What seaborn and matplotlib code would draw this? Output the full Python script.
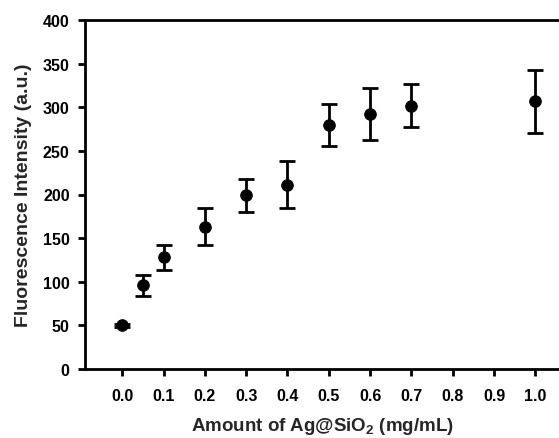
import numpy as np
import pandas as pd
import matplotlib
matplotlib.use("Agg")
import matplotlib.pyplot as plt
import seaborn as sns

amount = [0.0, 0.05, 0.1, 0.2, 0.3, 0.4, 0.5, 0.6, 0.7, 1.0]
intensity = [50, 96, 128, 163, 199, 211, 280, 292, 302, 307]
error = [2, 12, 14, 21, 19, 27, 24, 30, 25, 36]
xticks = [0.0, 0.1, 0.2, 0.3, 0.4, 0.5, 0.6, 0.7, 0.8, 0.9, 1.0]
yticks = [0, 50, 100, 150, 200, 250, 300, 350, 400]

df = pd.DataFrame({"amount": amount, "intensity": intensity, "err": error})

sns.set_style("ticks")
plt.rcParams["font.family"] = ["Liberation Sans", "DejaVu Sans"]
plt.rcParams["font.weight"] = "bold"
plt.rcParams["mathtext.fontset"] = "custom"
plt.rcParams["mathtext.bf"] = "Liberation Sans:bold"
plt.rcParams["mathtext.rm"] = "Liberation Sans:bold"

fig = plt.figure(figsize=(5.59, 4.39), dpi=100)
ax = fig.add_axes([85 / 559, 69 / 439, 1 - 85 / 559, 349 / 439])

ax.errorbar(df["amount"], df["intensity"], yerr=df["err"], fmt="none",
            ecolor="black", elinewidth=2, capsize=6, capthick=2, zorder=2)
sns.scatterplot(data=df, x="amount", y="intensity", ax=ax, color="black",
                s=70, edgecolor="black", zorder=3, legend=False)

ax.set_xlim(-0.09, 1.057)
ax.set_ylim(0, 400)
ax.set_xticks(xticks)
ax.set_xticklabels([f"{t:.1f}" for t in xticks])
ax.set_yticks(yticks)
ax.tick_params(direction="out", length=5, width=2, labelsize=11.5, colors="black")
for lab in ax.get_xticklabels() + ax.get_yticklabels():
    lab.set_fontweight("bold")
for side in ["left", "bottom", "top"]:
    ax.spines[side].set_linewidth(2)
    ax.spines[side].set_color("black")
ax.spines["right"].set_visible(False)
ax.tick_params(axis="x", pad=9)
ax.tick_params(axis="y", pad=6)

ax.set_xlabel(r"Amount of Ag@SiO$_{\mathbf{2}}$ (mg/mL)", fontsize=13.5, fontweight="bold", labelpad=8)
ax.set_ylabel("Fluorescence Intensity (a.u.)", fontsize=14, fontweight="bold", labelpad=8)

fig.savefig("out.png", dpi=100)
